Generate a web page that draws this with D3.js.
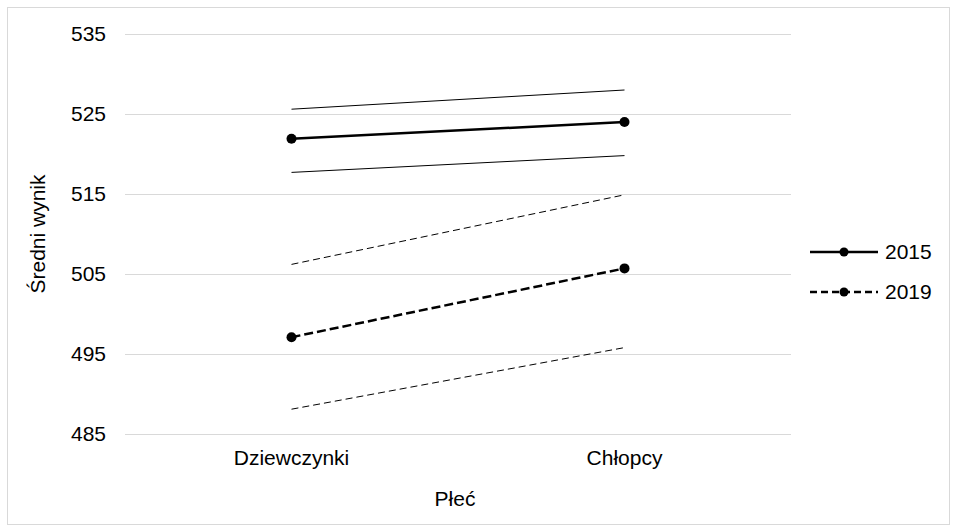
<!DOCTYPE html>
<html>
<head>
<meta charset="utf-8">
<script src="https://cdn.jsdelivr.net/npm/d3@7"></script>
<style>
  body { margin: 0; background: #fff; }
  text { font-family: "Liberation Sans", Arial, sans-serif; fill: #000; }
</style>
</head>
<body>
<div id="chart"></div>
<script>
'use strict';

// Data
const categories = ['Dziewczynki', 'Chłopcy'];
const years = ['2015', '2019'];
const mean2015 = [521.9, 524.0];
const upper2015 = [525.6, 528.0];
const lower2015 = [517.7, 519.8];
const mean2019 = [497.1, 505.7];
const upper2019 = [506.2, 514.9];
const lower2019 = [488.1, 495.8];
const yTicks = [485, 495, 505, 515, 525, 535];

const W = 957, H = 532;
const plot = { left: 125, right: 791, top: 34, bottom: 434 };
const FS = 21;

const svg = d3.select('#chart').append('svg').attr('width', W).attr('height', H);

/* Outer frame */
svg.append('rect').attr('x', 7.5).attr('y', 7.5).attr('width', W - 15).attr('height', H - 15)
    .attr('fill', '#fff').attr('stroke', '#d9d9d9');

const x = d3.scaleBand().domain(categories).range([plot.left, plot.right]);
const y = d3.scaleLinear().domain([485, 535]).range([plot.bottom, plot.top]);
const cx = c => x(c) + x.bandwidth() / 2;

/* Gridlines + y tick labels */
const yAxis = svg.append('g').attr('transform', `translate(${plot.left},0)`)
    .call(d3.axisLeft(y).tickValues(yTicks).tickSize(-(plot.right - plot.left)).tickPadding(19).tickFormat(d3.format('d')));
yAxis.select('.domain').remove();
yAxis.selectAll('.tick line').attr('stroke', '#d9d9d9').attr('stroke-width', 1);
yAxis.selectAll('.tick text').attr('font-size', FS).attr('font-family', '"Liberation Sans", Arial, sans-serif');

/* x labels */
const xAxis = svg.append('g').attr('transform', `translate(0,${plot.bottom})`)
    .call(d3.axisBottom(x).tickSize(0).tickPadding(16));
xAxis.select('.domain').remove();
xAxis.selectAll('.tick text').attr('font-size', FS).attr('font-family', '"Liberation Sans", Arial, sans-serif');

/* Axis titles */
svg.append('text').attr('x', (plot.left + plot.right) / 2 - 3).attr('y', 506).attr('text-anchor', 'middle')
    .attr('font-size', FS).text('Płeć');
svg.append('text').attr('transform', `translate(45,${(plot.top + plot.bottom) / 2}) rotate(-90)`)
    .attr('text-anchor', 'middle').attr('font-size', FS).text('Średni wynik');

const line = d3.line().x((d, i) => cx(categories[i])).y(d => y(d));

function drawSeries(mean, upper, lower, dashMean, dashCI) {
    [upper, lower].forEach(s => {
        svg.append('path').attr('d', line(s)).attr('fill', 'none').attr('stroke', '#000')
            .attr('stroke-width', 1).attr('stroke-dasharray', dashCI);
    });
    svg.append('path').attr('d', line(mean)).attr('fill', 'none').attr('stroke', '#000')
        .attr('stroke-width', 2.5).attr('stroke-dasharray', dashMean);
    svg.selectAll(null).data(mean).join('circle')
        .attr('cx', (d, i) => cx(categories[i])).attr('cy', d => y(d)).attr('r', 5).attr('fill', '#000');
}
drawSeries(mean2015, upper2015, lower2015, null, null);
drawSeries(mean2019, upper2019, lower2019, '9,4', '7,4');

/* Legend */
const legend = svg.append('g');
years.forEach((yr, i) => {
    const ly = 252 + i * 40;
    legend.append('line').attr('x1', 810).attr('x2', 878).attr('y1', ly).attr('y2', ly)
        .attr('stroke', '#000').attr('stroke-width', 2.5).attr('stroke-dasharray', i ? '7,4' : null);
    legend.append('circle').attr('cx', 844).attr('cy', ly).attr('r', 4.5).attr('fill', '#000');
    legend.append('text').attr('x', 885).attr('y', ly + 7).attr('font-size', FS).text(yr);
});
</script>
</body>
</html>
